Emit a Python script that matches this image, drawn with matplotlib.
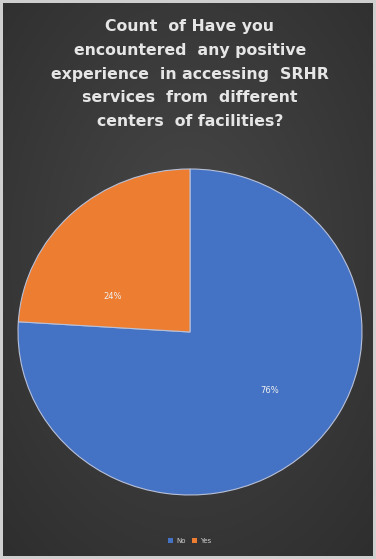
import numpy as np
import matplotlib
matplotlib.use("Agg")
import matplotlib.pyplot as plt

categories = ["No", "Yes"]
values = [76, 24]
colors = ["#4472C4", "#ED7D31"]
title = ("Count  of Have you\nencountered  any positive\nexperience  in accessing  SRHR\n"
         "services  from  different\ncenters  of facilities?")

W, H = 376, 559
fig = plt.figure(figsize=(W / 100, H / 100), dpi=100)
fig.patch.set_facecolor("#cfcfcf")

# background gradient
bg = fig.add_axes([0.008, 0.006, 0.984, 0.988])
yy, xx = np.mgrid[0:1:300j, 0:1:200j]
r = np.sqrt(((xx - 0.5) / 0.9) ** 2 + ((yy - 0.55) / 0.9) ** 2)
val = 0.28 - 0.12 * np.clip(r, 0, 1)
bg.imshow(np.dstack([val, val, val]), extent=[0, 1, 0, 1], aspect="auto", origin="lower")
bg.set_axis_off()

fig.text(0.505, 1 - 74 / H, title, ha="center", va="center", color="#e6e6e6",
         fontsize=11.3, fontweight="bold", linespacing=1.72, family="DejaVu Sans")

ax = fig.add_axes([18 / W, 1 - 495 / H, 344 / W, 326 / H])
wedges, texts, autotexts = ax.pie(values, colors=colors, startangle=90, counterclock=False,
                                  autopct="%1.0f%%", pctdistance=0.55,
                                  wedgeprops=dict(edgecolor="#b8c0d8", linewidth=0.8),
                                  textprops=dict(color="#f0f0f0", fontsize=6))
ax.set_aspect("auto")
ax.set_xlim(-1, 1)
ax.set_ylim(-1, 1)
# Excel-style data label placement
for t, (px, py) in zip(autotexts, [(0.465, -0.356), (-0.448, 0.22)]):
    t.set_position((px, py))

leg = fig.legend(wedges, categories, loc="center", bbox_to_anchor=(0.505, 1 - 541 / H),
                 ncol=2, frameon=False, fontsize=5, labelcolor="#d0d0d0",
                 handlelength=0.7, handleheight=0.7, columnspacing=1.0, handletextpad=0.4)
for h in leg.legend_handles:
    h.set_edgecolor("none")

fig.savefig("out.png", dpi=100, facecolor=fig.get_facecolor())
